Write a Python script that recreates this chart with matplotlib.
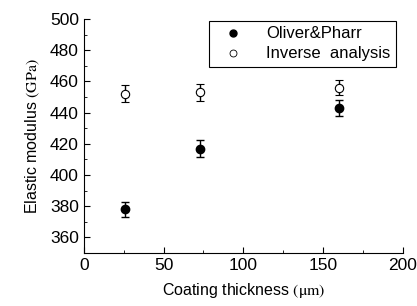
import matplotlib
matplotlib.use("Agg")
import matplotlib.pyplot as plt
from matplotlib.ticker import MultipleLocator
from matplotlib.lines import Line2D

plt.rcParams["font.family"] = ["Liberation Sans", "DejaVu Sans"]
plt.rcParams["mathtext.fontset"] = "stix"

# -----------------------------
# Data
# -----------------------------
thickness = [26, 73, 160]
oliver_pharr = [378, 417, 443]
oliver_err = [5, 5.5, 5]
inverse = [452, 453, 456]
inverse_err = [5.5, 5.5, 5]

fig = plt.figure(figsize=(4.17, 3.06), dpi=100)
ax = fig.add_axes([0.201, 0.173, 0.765, 0.765])

ax.errorbar(thickness, oliver_pharr, yerr=oliver_err, fmt="o", color="black",
            markersize=6, capsize=3, elinewidth=1, capthick=1)
ax.errorbar(thickness, inverse, yerr=inverse_err, fmt="o", color="black",
            markerfacecolor="white", markeredgewidth=0.8, markersize=6,
            capsize=3, elinewidth=1, capthick=1)

ax.set_xlim(0, 200)
ax.set_ylim(350, 500)
ax.xaxis.set_major_locator(MultipleLocator(50))
ax.xaxis.set_minor_locator(MultipleLocator(25))
ax.yaxis.set_minor_locator(MultipleLocator(10))
ax.set_yticks(range(360, 501, 20))

for side in ["top", "right"]:
    ax.spines[side].set_visible(False)
ax.tick_params(which="both", direction="in", labelsize=12.5, top=False, right=False)
ax.tick_params(which="major", length=4)
ax.tick_params(which="minor", length=2)

ax.set_xlabel(r"Coating thickness $\mathrm{(\mu m)}$", fontsize=11.5, labelpad=6)
ax.set_ylabel(r"Elastic modulus $\mathrm{(GPa)}$", fontsize=11.5, labelpad=6)

# legend shows markers only
handles = [
    Line2D([], [], linestyle="none", marker="o", color="black", markersize=5),
    Line2D([], [], linestyle="none", marker="o", color="black",
           markerfacecolor="white", markeredgewidth=0.6, markersize=5),
]
leg = ax.legend(handles, ["Oliver&Pharr", "Inverse  analysis"],
                loc="upper right", bbox_to_anchor=(0.985, 1.0), fontsize=12,
                fancybox=False, edgecolor="black", framealpha=1,
                handlelength=2.2, handletextpad=0.9, borderaxespad=0.1,
                labelspacing=0.3, borderpad=0.35)
leg.get_frame().set_linewidth(0.8)

fig.savefig("out.png", dpi=100)
